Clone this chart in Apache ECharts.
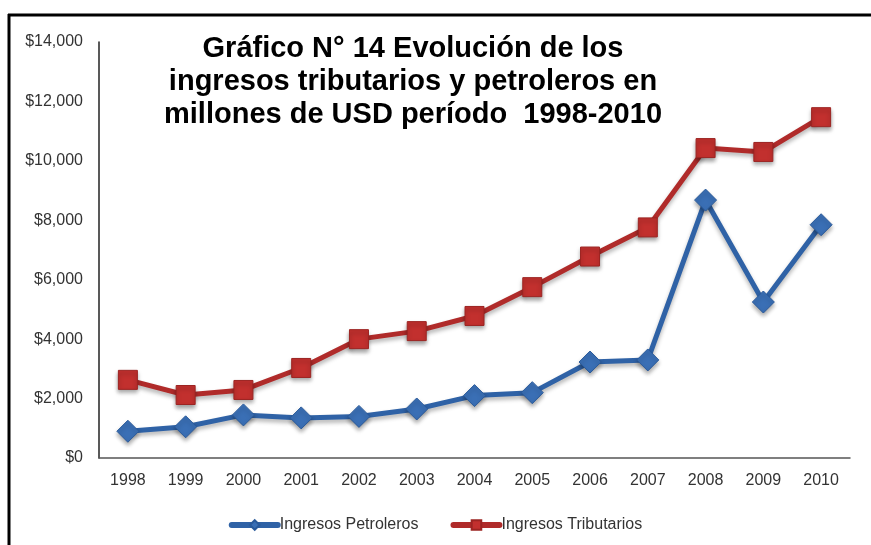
<!DOCTYPE html>
<html>
<head>
<meta charset="utf-8">
<script src="https://cdn.jsdelivr.net/npm/echarts@6/dist/echarts.min.js"></script>
<style>
  html, body { margin: 0; padding: 0; background: #fff; }
  #chart { width: 871px; height: 545px; }
</style>
</head>
<body>
<div id="chart"></div>
<script>
// datos
var years = ['1998', '1999', '2000', '2001', '2002', '2003', '2004', '2005', '2006', '2007', '2008', '2009', '2010'];
var petroleros = [900, 1050, 1450, 1350, 1400, 1650, 2100, 2200, 3230, 3300, 8680, 5250, 7850];
var tributarios = [2630, 2120, 2290, 3030, 4000, 4270, 4780, 5750, 6780, 7760, 10430, 10300, 11470];
var titleLines = ['Gráfico N° 14 Evolución de los', 'ingresos tributarios y petroleros en', 'millones de USD período  1998-2010'];

var chart = echarts.init(document.getElementById('chart'), null, { renderer: 'canvas' });

var font = 'Liberation Sans, Arial, sans-serif';

var option = {
    animation: false,
    textStyle: { fontFamily: font },
    title: {
        text: titleLines.join('\n'),
        left: 408,
        top: 27,
        textAlign: 'center',
        textStyle: {
            fontFamily: font,
            fontSize: 29,
            fontWeight: 'bold',
            color: '#000',
            lineHeight: 33
        }
    },
    grid: {
        left: 99,
        right: 21,
        top: 42,
        bottom: 87
    },
    xAxis: {
        type: 'category',
        data: years,
        boundaryGap: true,
        axisLine: { lineStyle: { color: '#555', width: 1.5 } },
        axisTick: { show: false },
        axisLabel: { color: '#333', fontSize: 16, margin: 15, fontFamily: font }
    },
    yAxis: {
        type: 'value',
        min: 0,
        max: 14000,
        interval: 2000,
        axisLine: { show: true, lineStyle: { color: '#222', width: 1.5 } },
        axisTick: { show: false },
        splitLine: { show: false },
        axisLabel: {
            color: '#333',
            fontSize: 16,
            margin: 16,
            fontFamily: font,
            formatter: function (v) { return '$' + v.toLocaleString('en-US'); }
        }
    },
    legend: {
        bottom: 7,
        left: 'center',
        itemWidth: 46,
        itemHeight: 12,
        itemGap: 32,
        lineStyle: { width: 6, cap: 'round' },
        textStyle: { fontSize: 16, color: '#333', fontFamily: font, padding: [0, 0, 0, -3] },
        data: ['Ingresos Petroleros', 'Ingresos Tributarios']
    },
    series: [
        {
            name: 'Ingresos Petroleros',
            type: 'line',
            data: petroleros,
            symbol: 'diamond',
            symbolSize: 22,
            z: 3,
            lineStyle: {
                color: '#2f62a6', width: 5,
                shadowColor: 'rgba(0,0,0,0.3)', shadowBlur: 4, shadowOffsetY: 3
            },
            itemStyle: {
                color: '#3a6fb5', borderColor: '#2a5a9a', borderWidth: 1,
                shadowColor: 'rgba(0,0,0,0.35)', shadowBlur: 4, shadowOffsetY: 3
            }
        },
        {
            name: 'Ingresos Tributarios',
            type: 'line',
            data: tributarios,
            symbol: 'rect',
            symbolSize: 19,
            z: 2,
            lineStyle: {
                color: '#b02b2a', width: 5,
                shadowColor: 'rgba(0,0,0,0.3)', shadowBlur: 4, shadowOffsetY: 3
            },
            itemStyle: {
                color: '#c2302e', borderColor: '#9c2422', borderWidth: 1,
                shadowColor: 'rgba(0,0,0,0.35)', shadowBlur: 4, shadowOffsetY: 3
            }
        }
    ],
    graphic: [
        // marco del grafico (borde superior e izquierdo)
        { type: 'line', shape: { x1: 8, y1: 15, x2: 871, y2: 15 }, style: { stroke: '#000', lineWidth: 3 } },
        { type: 'line', shape: { x1: 9, y1: 14, x2: 9, y2: 545 }, style: { stroke: '#000', lineWidth: 3 } }
    ]
};

chart.setOption(option);
</script>
</body>
</html>
